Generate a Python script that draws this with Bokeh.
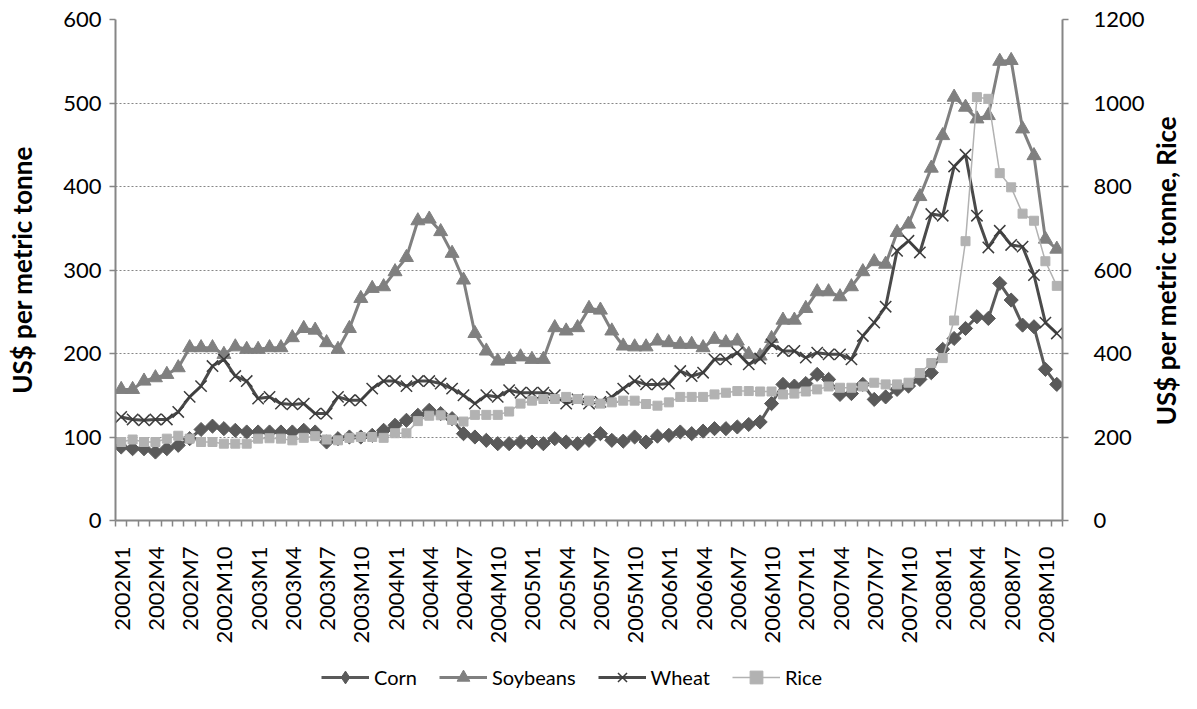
import math
from bokeh.plotting import figure
from bokeh.layouts import row, column
from bokeh.models import Range1d, LinearAxis, FixedTicker, Legend, LegendItem
from bokeh.core.properties import value
from bokeh.embed import file_html
from bokeh.resources import INLINE

# ---- data -------------------------------------------------------------
months = [f"{y}M{m}" for y in range(2002, 2009) for m in range(1, 13)][:83]

corn = [88, 86, 86, 82, 86, 90, 98, 109, 113, 110, 108, 106, 106, 106, 106,
        106, 108, 106, 94, 98, 100, 100, 102, 108, 114, 120, 126, 132, 128, 122,
        104, 100, 96, 92, 92, 94, 94, 92, 98, 94, 92, 96, 104, 96, 95,
        100, 94, 101, 102, 106, 104, 107, 110, 110, 112, 115,
        118, 140, 163, 161, 164, 175, 169, 151, 152, 163, 145, 148, 157, 161,
        169, 177, 205, 218, 230, 244, 242, 284, 264, 234, 232, 181, 163]

soybeans = [157, 157, 167, 171, 175, 183, 207, 207, 207, 199, 208, 205, 205, 207, 207,
            219, 230, 228, 213, 205, 230, 266, 278, 280, 298, 315, 359, 361, 346, 320,
            288, 224, 203, 191, 193, 196, 193, 193, 231, 227, 231, 254, 252, 227, 209,
            208, 208, 215, 213, 211, 211, 207, 217, 213, 215, 199,
            197, 218, 240, 240, 254, 274, 274, 268, 280, 298, 310, 307, 345, 355,
            388, 422, 461, 507, 495, 481, 485, 550, 551, 469, 437, 337, 325]

wheat = [124, 121, 120, 121, 121, 130, 148, 161, 185, 193, 173, 167, 146, 148, 140,
         139, 140, 128, 128, 148, 144, 144, 158, 167, 167, 161, 167, 167, 164, 158,
         150, 140, 150, 148, 156, 153, 153, 153, 150, 140, 145, 140, 142, 148, 158,
         167, 163, 163, 164, 179, 173, 177, 193, 193, 201, 187,
         194, 211, 203, 203, 195, 201, 199, 199, 193, 221, 237, 256, 323, 335,
         321, 367, 365, 424, 438, 365, 327, 347, 330, 328, 294, 237, 224]

rice = [188, 194, 188, 188, 196, 203, 196, 188, 188, 184, 184, 184, 196, 197, 196,
        192, 198, 202, 194, 192, 198, 200, 200, 198, 209, 209, 238, 251, 252, 241,
        237, 253, 253, 253, 261, 280, 287, 291, 291, 296, 291, 287, 280, 283, 287,
        287, 279, 275, 283, 296, 296, 296, 302, 306, 310, 310,
        309, 309, 302, 304, 309, 314, 321, 318, 318, 321, 330, 326, 326, 330,
        353, 377, 389, 479, 669, 1014, 1010, 832, 798, 735, 718, 621, 562]

series_names = ["Corn", "Soybeans", "Wheat", "Rice"]
left_ticks = [0, 100, 200, 300, 400, 500, 600]
right_ticks = [0, 200, 400, 600, 800, 1000, 1200]
left_title = "US$ per metric tonne"
right_title = "US$ per metric tonne, Rice"

# ---- style ------------------------------------------------------------
FONT = "Lato"
TICK_FS = "22px"
LEG_FS = "20px"
TITLE_FS = "26px"
AXIS_C = "#868686"
COLORS = {"Corn": "#5a5a5a", "Soybeans": "#808080", "Wheat": "#4a4a4a", "Rice": "#b2b2b2"}

W_TOTAL, H_TOTAL = 1181, 693
W_TITLE = 34
W_MAIN = W_TOTAL - W_TITLE
H_LEG = 47
H_MAIN = H_TOTAL - H_LEG

x = list(range(len(months)))

p = figure(width=W_MAIN, height=H_MAIN, output_backend="svg", toolbar_location=None,
           x_range=Range1d(-0.5, len(months) - 0.5), y_range=Range1d(0, 600),
           min_border_left=115, min_border_right=W_MAIN - 1063, min_border_top=19,
           min_border_bottom=H_MAIN - 521)
p.extra_y_ranges = {"rice": Range1d(0, 1200)}
p.outline_line_color = None
p.background_fill_color = "white"
p.border_fill_color = "white"

# grid
p.xgrid.visible = False
p.ygrid.grid_line_color = AXIS_C
p.ygrid.grid_line_dash = "2 2"
p.ygrid.grid_line_width = 1
p.ygrid.ticker = FixedTicker(ticks=left_ticks)

# x axis
xa = p.xaxis[0]
xa.ticker = FixedTicker(ticks=list(range(0, len(months), 3)),
                        minor_ticks=[i - 0.5 for i in range(len(months) + 1)])
xa.major_label_overrides = {i: months[i] for i in range(0, len(months), 3)}
xa.major_label_orientation = math.pi / 2
xa.major_tick_line_color = None
xa.major_tick_out = 0
xa.major_tick_in = 0
xa.minor_tick_out = 6
xa.minor_tick_in = 0
xa.minor_tick_line_color = AXIS_C
xa.minor_tick_line_width = 1.5
xa.axis_line_color = AXIS_C
xa.axis_line_width = 2
xa.major_label_standoff = 20
xa.major_label_text_font = FONT
xa.major_label_text_font_size = TICK_FS
xa.major_label_text_color = "#000000"

# left axis
ya = p.yaxis[0]
ya.ticker = FixedTicker(ticks=left_ticks)
ya.axis_line_color = AXIS_C
ya.axis_line_width = 2
ya.major_tick_line_color = AXIS_C
ya.major_tick_line_width = 1.5
ya.major_tick_out = 6
ya.major_tick_in = 0
ya.minor_tick_line_color = None
ya.major_label_standoff = 8
ya.major_label_text_font = FONT
ya.major_label_text_font_size = TICK_FS
ya.major_label_text_color = "#000000"
ya.axis_label = left_title
ya.axis_label_text_font = FONT
ya.axis_label_text_font_style = "bold"
ya.axis_label_text_font_size = TITLE_FS
ya.axis_label_text_color = "#000000"
ya.axis_label_standoff = 22

# right axis
ra = LinearAxis(y_range_name="rice", ticker=FixedTicker(ticks=right_ticks))
ra.axis_line_color = AXIS_C
ra.axis_line_width = 2
ra.major_tick_line_color = AXIS_C
ra.major_tick_line_width = 1.5
ra.major_tick_out = 6
ra.major_tick_in = 0
ra.minor_tick_line_color = None
ra.major_label_standoff = 25
ra.major_label_text_font = FONT
ra.major_label_text_font_size = TICK_FS
ra.major_label_text_color = "#000000"
p.add_layout(ra, "right")


def draw(fig, xs, d, name, legend_mode=False, **kw):
    c = COLORS[name]
    if name == "Corn":
        l = fig.line(xs, d, line_color=c, line_width=3, **kw)
        if legend_mode:
            m = fig.scatter(xs, d, marker="diamond", size=14, fill_color=c, line_color=c, **kw)
        else:
            m = fig.scatter(xs, d, marker="square", angle=math.pi / 4, size=10,
                            fill_color=c, line_color=c, **kw)
    elif name == "Soybeans":
        l = fig.line(xs, d, line_color=c, line_width=3, **kw)
        m = fig.scatter(xs, d, marker="triangle", size=14, fill_color=c, line_color=c, **kw)
    elif name == "Wheat":
        l = fig.line(xs, d, line_color=c, line_width=3, **kw)
        m = fig.scatter(xs, d, marker="x", size=16, line_color="#3c3c3c", line_width=1.5, **kw)
    else:
        l = fig.line(xs, d, line_color=c, line_width=1.5, **kw)
        m = fig.scatter(xs, d, marker="square", size=9, fill_color=c, line_color=c, **kw)
    return [l, m]


draw(p, x, corn, "Corn")
draw(p, x, soybeans, "Soybeans")
draw(p, x, wheat, "Wheat")
draw(p, x, rice, "Rice", y_range_name="rice")

# ---- legend figure ----------------------------------------------------
lf = figure(width=W_MAIN, height=H_LEG, output_backend="svg", toolbar_location=None,
            x_range=Range1d(0, 1), y_range=Range1d(0, 1), x_axis_type=None,
            y_axis_type=None, min_border=0)
lf.outline_line_color = None
lf.xgrid.visible = False
lf.ygrid.visible = False
items = []
for name in series_names:
    rs = draw(lf, [-10, -9], [-10, -10], name, legend_mode=True)
    items.append(LegendItem(label=name, renderers=rs))
legend = Legend(items=items, orientation="horizontal", location=(206, 0),
                glyph_width=48, glyph_height=32, label_standoff=5, spacing=22,
                padding=0, margin=0, border_line_color=None,
                background_fill_alpha=0, label_text_font=FONT,
                label_text_font_size=LEG_FS, label_text_color="#000000")
lf.add_layout(legend, "center")

# ---- right title figure -----------------------------------------------
tf = figure(width=W_TITLE, height=H_TOTAL, output_backend="svg", toolbar_location=None,
            x_range=Range1d(0, W_TITLE), y_range=Range1d(0, H_TOTAL), x_axis_type=None,
            y_axis_type=None, min_border=0)
tf.outline_line_color = None
tf.xgrid.visible = False
tf.ygrid.visible = False
tf.text(x=[W_TITLE / 2 + 1], y=[H_TOTAL - 270], text=[right_title], angle=math.pi / 2,
        text_align="center", text_baseline="middle", text_font=value(FONT),
        text_font_style="bold", text_font_size=TITLE_FS, text_color="#000000")

layout = row(column(p, lf, spacing=0), tf, spacing=0)
open("out.html", "w").write(file_html(layout, INLINE))
